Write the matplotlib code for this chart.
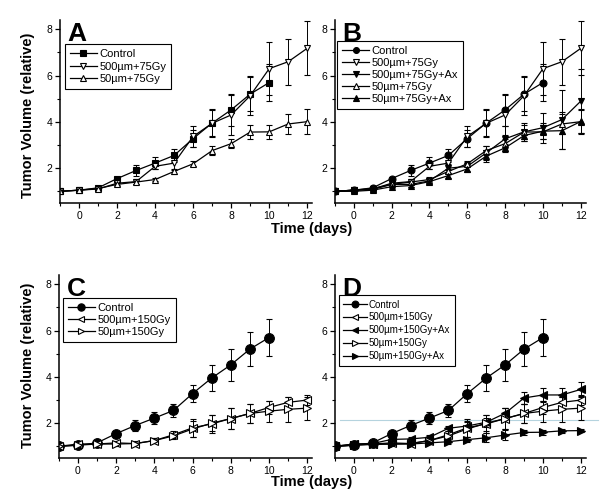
"""Tumor volume growth curves after irradiation, four panels."""

import matplotlib

matplotlib.use("Agg")
from matplotlib import pyplot as plt
from matplotlib.ticker import MultipleLocator

plt.rcParams["font.family"] = ["Liberation Sans", "DejaVu Sans"]

# ---------------------------------------------------------------------------
# Data
# ---------------------------------------------------------------------------

days = list(range(-1, 13))
control_days = list(range(-1, 11))

control = [1.0, 1.05, 1.15, 1.55, 1.9, 2.22, 2.55, 3.28, 3.95, 4.52, 5.2, 5.7]
control_err = [0, 0.1, 0.06, 0.08, 0.22, 0.27, 0.3, 0.38, 0.58, 0.68, 0.72, 0.8]

w500_75 = [1.0, 1.05, 1.1, 1.35, 1.42, 2.08, 2.22, 3.37, 3.94, 4.3, 5.13, 6.3, 6.6, 7.18]
w500_75_err = [0, 0.08, 0.05, 0.08, 0.12, 0.12, 0.3, 0.45, 0.6, 0.85, 0.85, 1.15, 1.0, 1.17]

w50_75 = [1.0, 1.05, 1.12, 1.3, 1.4, 1.51, 1.86, 2.19, 2.76, 3.06, 3.56, 3.57, 3.91, 4.01]
w50_75_err = [0, 0.05, 0.05, 0.06, 0.08, 0.08, 0.12, 0.1, 0.2, 0.2, 0.3, 0.3, 0.45, 0.55]

w500_75_ax = [1.0, 1.05, 1.08, 1.3, 1.3, 1.45, 2.0, 2.08, 2.66, 3.27, 3.57, 3.75, 4.1, 4.9]
w500_75_ax_err = [0, 0.05, 0.05, 0.08, 0.1, 0.15, 0.2, 0.2, 0.3, 0.55, 0.4, 0.65, 1.28, 1.4]

w50_75_ax = [1.0, 1.0, 1.05, 1.2, 1.25, 1.42, 1.68, 1.97, 2.52, 2.88, 3.41, 3.6, 3.62, 4.02]
w50_75_ax_err = [0, 0.05, 0.05, 0.06, 0.08, 0.12, 0.12, 0.15, 0.25, 0.15, 0.25, 0.35, 0.8, 0.5]

w500_150 = [1.0, 1.1, 1.1, 1.15, 1.12, 1.25, 1.5, 1.8, 1.97, 2.2, 2.42, 2.68, 2.9, 3.0]
w500_150_err = [0, 0.08, 0.06, 0.1, 0.1, 0.1, 0.15, 0.38, 0.38, 0.45, 0.41, 0.3, 0.25, 0.2]

w50_150 = [1.0, 1.05, 1.1, 1.1, 1.12, 1.25, 1.45, 1.75, 2.0, 2.2, 2.42, 2.52, 2.6, 2.65]
w50_150_err = [0, 0.05, 0.05, 0.08, 0.08, 0.1, 0.12, 0.35, 0.35, 0.45, 0.4, 0.45, 0.55, 0.5]

w500_150_ax = [1.0, 1.1, 1.12, 1.3, 1.32, 1.39, 1.78, 1.88, 2.04, 2.43, 3.09, 3.22, 3.22, 3.46]
w500_150_ax_err = [0, 0.05, 0.05, 0.06, 0.08, 0.08, 0.1, 0.15, 0.2, 0.22, 0.25, 0.3, 0.3, 0.3]

w50_150_ax = [1.0, 1.05, 1.08, 1.1, 1.1, 1.15, 1.2, 1.29, 1.37, 1.49, 1.6, 1.61, 1.67, 1.68]
w50_150_ax_err = [0, 0.04, 0.04, 0.05, 0.05, 0.06, 0.08, 0.1, 0.2, 0.2, 0.12, 0.1, 0.1, 0.08]

artifact_level = 2.15  # faint horizontal line in panel D

# ---------------------------------------------------------------------------
# Helpers
# ---------------------------------------------------------------------------


def _series(ax, x, y, err, label, marker, filled, ms=5):
    """Draws one curve with error bars and returns the line for the legend."""
    container = ax.errorbar(
        x, y, yerr=err, color="black", lw=0.9,
        marker=marker, ms=ms, mec="black", mew=0.8,
        mfc="black" if filled else "white",
        elinewidth=0.7, capsize=2.5, capthick=0.7,
    )
    line = container[0]
    line.set_label(label)
    return line


def _style_axis(ax, letter, handles, legend_anchor, legend_size=8,
                spacing=0.25, markerscale=0.85):
    ax.set_xlim(-1, 12.25)
    ax.set_ylim(0.5, 8.4)
    for side in ("top", "right"):
        ax.spines[side].set_visible(False)
    ax.spines["left"].set_linewidth(1.1)
    ax.spines["bottom"].set_linewidth(1.1)
    ax.xaxis.set_major_locator(MultipleLocator(2))
    ax.xaxis.set_minor_locator(MultipleLocator(1))
    ax.yaxis.set_major_locator(MultipleLocator(2))
    ax.yaxis.set_minor_locator(MultipleLocator(1))
    ax.set_yticks([2, 4, 6, 8])
    ax.tick_params(which="major", direction="out", length=3.5, width=0.9,
                   labelsize=7.5, pad=2)
    ax.tick_params(which="minor", direction="out", length=2, width=0.8)
    ax.text(0.03, 0.99, letter, transform=ax.transAxes, fontsize=19,
            fontweight="bold", va="top", ha="left")
    leg = ax.legend(
        handles=handles, loc="upper left", bbox_to_anchor=legend_anchor,
        borderaxespad=0, fontsize=legend_size, frameon=True, fancybox=False,
        framealpha=1, edgecolor="black", handlelength=2.4, handletextpad=0.25,
        labelspacing=spacing, borderpad=0.45, markerscale=markerscale,
    )
    leg.get_frame().set_linewidth(0.8)


# ---------------------------------------------------------------------------
# Figure
# ---------------------------------------------------------------------------

fig = plt.figure(figsize=(6.0, 5.01), dpi=100)
ax_a = fig.add_axes([0.100, 0.595, 0.420, 0.365])
ax_b = fig.add_axes([0.558, 0.595, 0.418, 0.365])
ax_c = fig.add_axes([0.098, 0.086, 0.422, 0.365])
ax_d = fig.add_axes([0.558, 0.086, 0.418, 0.365])

# Panel A
handles_a = [
    _series(ax_a, control_days, control, control_err, "Control", "s", True),
    _series(ax_a, days, w500_75, w500_75_err, "500µm+75Gy", "v", False),
    _series(ax_a, days, w50_75, w50_75_err, "50µm+75Gy", "^", False),
]
_style_axis(ax_a, "A", handles_a, (0.02, 0.87))

# Panel B
handles_b = [
    _series(ax_b, control_days, control, control_err, "Control", "o", True),
    _series(ax_b, days, w500_75, w500_75_err, "500µm+75Gy", "v", False),
    _series(ax_b, days, w500_75_ax, w500_75_ax_err, "500µm+75Gy+Ax", "v", True),
    _series(ax_b, days, w50_75, w50_75_err, "50µm+75Gy", "^", False),
    _series(ax_b, days, w50_75_ax, w50_75_ax_err, "50µm+75Gy+Ax", "^", True),
]
_style_axis(ax_b, "B", handles_b, (0.01, 0.885), spacing=0.18)

# Panel C
handles_c = [
    _series(ax_c, control_days, control, control_err, "Control", "o", True, ms=7),
    _series(ax_c, days, w500_150, w500_150_err, "500µm+150Gy", "<", False, ms=5.5),
    _series(ax_c, days, w50_150, w50_150_err, "50µm+150Gy", ">", False, ms=5.5),
]
_style_axis(ax_c, "C", handles_c, (0.016, 0.875), spacing=0.18, markerscale=0.75)

# Panel D
handles_d = [
    _series(ax_d, control_days, control, control_err, "Control", "o", True, ms=7),
    _series(ax_d, days, w500_150, w500_150_err, "500µm+150Gy", "<", False, ms=5.5),
    _series(ax_d, days, w500_150_ax, w500_150_ax_err, "500µm+150Gy+Ax", "<", True, ms=6),
    _series(ax_d, days, w50_150, w50_150_err, "50µm+150Gy", ">", False, ms=5.5),
    _series(ax_d, days, w50_150_ax, w50_150_ax_err, "50µm+150Gy+Ax", ">", True, ms=6),
]
_style_axis(ax_d, "D", handles_d, (0.016, 0.89), legend_size=7, spacing=0.3,
            markerscale=0.7)
ax_d.plot([-0.75, 12.9], [artifact_level, artifact_level], color="#b5d3de",
          lw=0.8, clip_on=False, zorder=0)

# Shared labels
for y_lab, y_time in ((0.77, 0.543), (0.27, 0.038)):
    fig.text(0.047, y_lab, "Tumor Volume (relative)", rotation=90,
             fontsize=10.5, fontweight="bold", ha="center", va="center")
    fig.text(0.52, y_time, "Time (days)", fontsize=10.5, fontweight="bold",
             ha="center", va="center")

fig.savefig("out.png", dpi=100)
